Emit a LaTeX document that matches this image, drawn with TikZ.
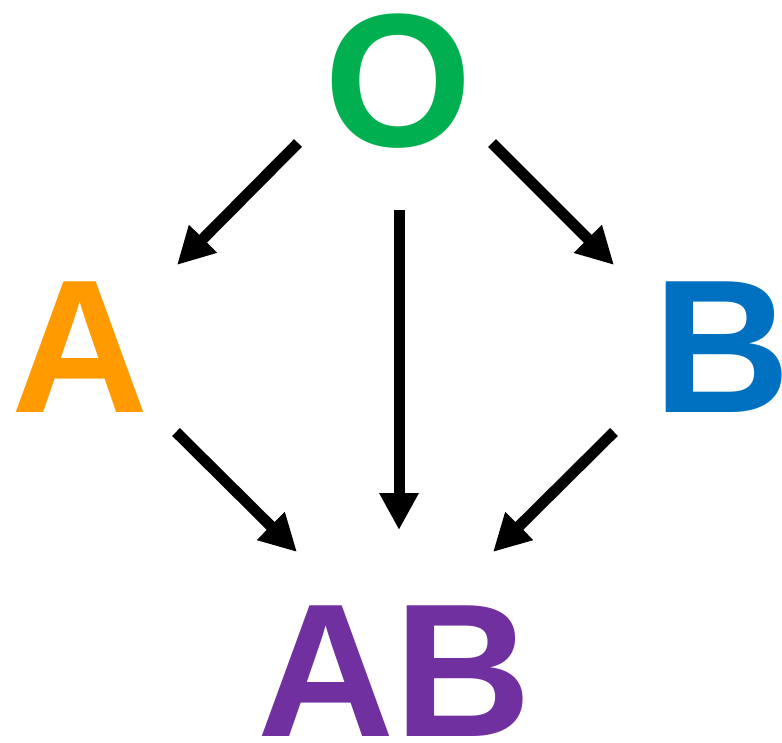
\documentclass[tikz,border=0pt]{standalone}
\usepackage{fontspec}
\setmainfont{Liberation Sans}
\usetikzlibrary{arrows.meta}
\definecolor{cO}{HTML}{00B050}
\definecolor{cA}{HTML}{FF9A00}
\definecolor{cB}{HTML}{0070C0}
\definecolor{cAB}{HTML}{7030A0}
\tikzset{
  letter/.style={inner sep=0pt, text height=138pt, text depth=0pt, font=\fontsize{190}{190}\selectfont\bfseries},
  conn/.style={line width=11pt, -{Triangle[length=37pt,width=37pt]}}
}
\begin{document}
\begin{tikzpicture}[x=1pt,y=-1pt]
\useasboundingbox (0,0) rectangle (782,742);
\node[letter, text=cO] (O) at (398,77) {O};
\node[letter, text=cA] (A) at (80,343) {A};
\node[letter, text=cB] (B) at (722,343) {B};
\node[letter, text=cAB] (AB) at (395,667) {AB};
\coordinate (oa1) at (298,143);
\coordinate (oa2) at (177,265);
\coordinate (ob1) at (492,143);
\coordinate (ob2) at (614,265);
\coordinate (oab1) at (399,210);
\coordinate (oab2) at (399,530);
\coordinate (aab1) at (176,432);
\coordinate (aab2) at (297,552);
\coordinate (bab1) at (614,432);
\coordinate (bab2) at (493,552);
\draw[conn] (oa1) -- (oa2);
\draw[conn] (ob1) -- (ob2);
\draw[conn] (oab1) -- (oab2);
\draw[conn] (aab1) -- (aab2);
\draw[conn] (bab1) -- (bab2);
\end{tikzpicture}
\end{document}
